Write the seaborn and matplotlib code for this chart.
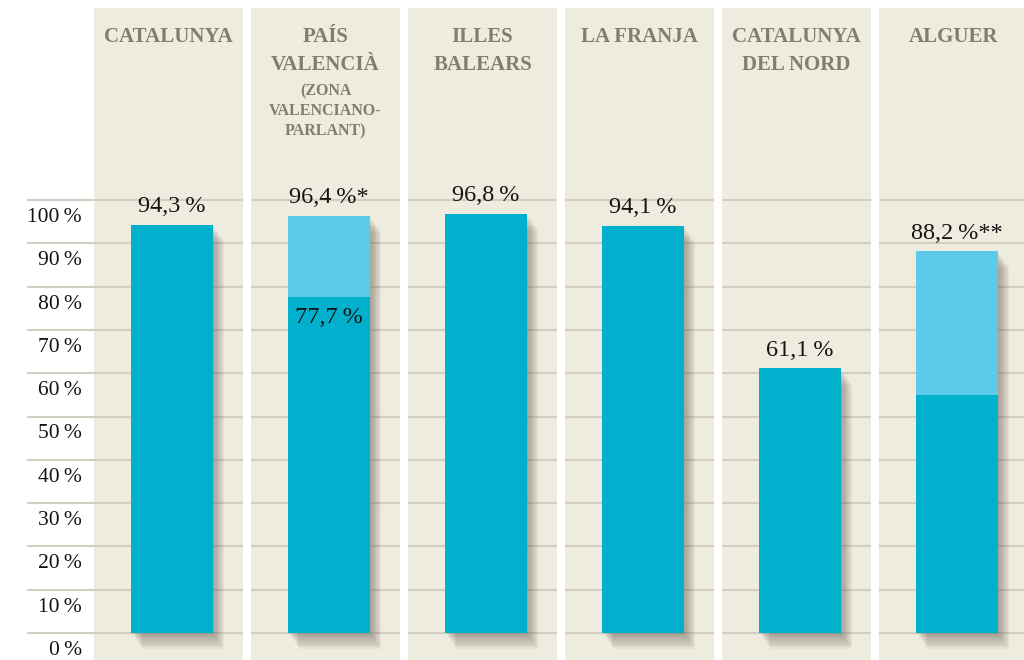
import matplotlib as mpl
from matplotlib import pyplot as plt
from matplotlib import patheffects as pe
from matplotlib.transforms import ScaledTranslation
import numpy as np
import pandas as pd
import seaborn as sns

# Data
regions = ["Catalunya", "País Valencià", "Illes Balears", "La Franja",
           "Catalunya del Nord", "Alguer"]
heading_lines = [["CATALUNYA"], ["PAÍS", "VALENCIÀ"], ["ILLES", "BALEARS"],
                 ["LA FRANJA"], ["CATALUNYA", "DEL NORD"], ["ALGUER"]]
note_lines = [[], ["(ZONA", "VALENCIANO-", "PARLANT)"], [], [], [], []]
total = [94.3, 96.4, 96.8, 94.1, 61.1, 88.2]
base = [94.3, 77.7, 96.8, 94.1, 61.1, 55.0]
total_labels = ["94,3\u2009%", "96,4\u2009%*", "96,8\u2009%", "94,1\u2009%",
                "61,1\u2009%", "88,2\u2009%**"]
base_labels = ["", "77,7\u2009%", "", "", "", ""]
y_ticks = [0, 10, 20, 30, 40, 50, 60, 70, 80, 90, 100]
y_tick_labels = [f"{t}\u2009%" for t in y_ticks]

# Colours
DARK = "#00b0cd"
LIGHT = "#5ecae9"
BEIGE = "#eeebdf"
GRID = "#d2cec2"
HEAD = "#7f7f70"
SERIF = ["Liberation Serif", "DejaVu Serif"]

sns.set_style("white")
plt.rcParams["font.family"] = SERIF

fig = plt.figure(figsize=(10.24, 6.6), dpi=100)
ax = fig.add_axes([27 / 1024, 0, 1 - 27 / 1024, 1])

df = pd.DataFrame({"region": regions, "total": total, "base": base})

# Bars: full value in light blue, base part in dark blue on top
sns.barplot(data=df, x="region", y="total", color=LIGHT, saturation=1,
            width=0.52, linewidth=0, edgecolor="none", ax=ax, zorder=3)
sns.barplot(data=df, x="region", y="base", color=DARK, saturation=1,
            width=0.52, linewidth=0, edgecolor="none", ax=ax, zorder=4)

# Soft drop shadow on the outer bars
shadow = [pe.SimplePatchShadow(offset=(k * 0.9, -k * 1.3),
                               shadow_rgbFace="#5f5b4b", alpha=0.065)
          for k in range(1, 10)]
for bar in ax.containers[0]:
    bar.set_path_effects(shadow + [pe.Normal()])

# Column backgrounds and white gaps
for i in range(len(regions)):
    ax.axvspan(i - 0.5, i + 0.455, ymin=0, ymax=1 - 8 / 660, color=BEIGE,
               lw=0, zorder=0)
    ax.axvspan(i + 0.455, i + 0.5, color="white", lw=0, zorder=2)

# Grid lines
ax.hlines(y_ticks, -1, 6, color=GRID, lw=1.5, zorder=1)

# Value labels
for i, (v, lab) in enumerate(zip(total, total_labels)):
    ax.annotate(lab, (i, v), xytext=(0, 13), textcoords="offset points",
                ha="center", va="center", fontsize=17.5, color="#141414",
                zorder=6)
for i, (v, lab) in enumerate(zip(base, base_labels)):
    if lab:
        ax.annotate(lab, (i, v), xytext=(0, -15), textcoords="offset points",
                    ha="center", va="center", fontsize=17.5, color="#141414",
                    zorder=6)

# Column headings
for i, lines in enumerate(heading_lines):
    for j, line in enumerate(lines):
        ax.text(i - 0.022, 1 - (42 + 28 * j) / 660, line,
                transform=ax.get_xaxis_transform(), ha="center",
                va="baseline", fontsize=15, fontweight="bold", color=HEAD)
for i, lines in enumerate(note_lines):
    for j, line in enumerate(lines):
        ax.text(i - 0.022, 1 - (95 + 20 * j) / 660, line,
                transform=ax.get_xaxis_transform(), ha="center",
                va="baseline", fontsize=11.5, fontweight="bold", color=HEAD)

# Axes
ax.set_xlim((27 - 172) / 157, (1024 - 172) / 157)
ax.set_ylim(-27 / 4.33, 633 / 4.33)
ax.set_xticks([])
ax.set_xlabel("")
ax.set_ylabel("")
ax.set_yticks(y_ticks)
ax.set_yticklabels(y_tick_labels, fontsize=15.5, color="#141414")
ax.tick_params(axis="y", length=0, pad=-55 * 0.72)
for lab in ax.get_yticklabels():
    lab.set_transform(lab.get_transform() +
                      ScaledTranslation(0, -15 / 100, fig.dpi_scale_trans))
    lab.set_zorder(6)
for s in ax.spines.values():
    s.set_visible(False)

fig.savefig("out.png", dpi=100, facecolor="white")
